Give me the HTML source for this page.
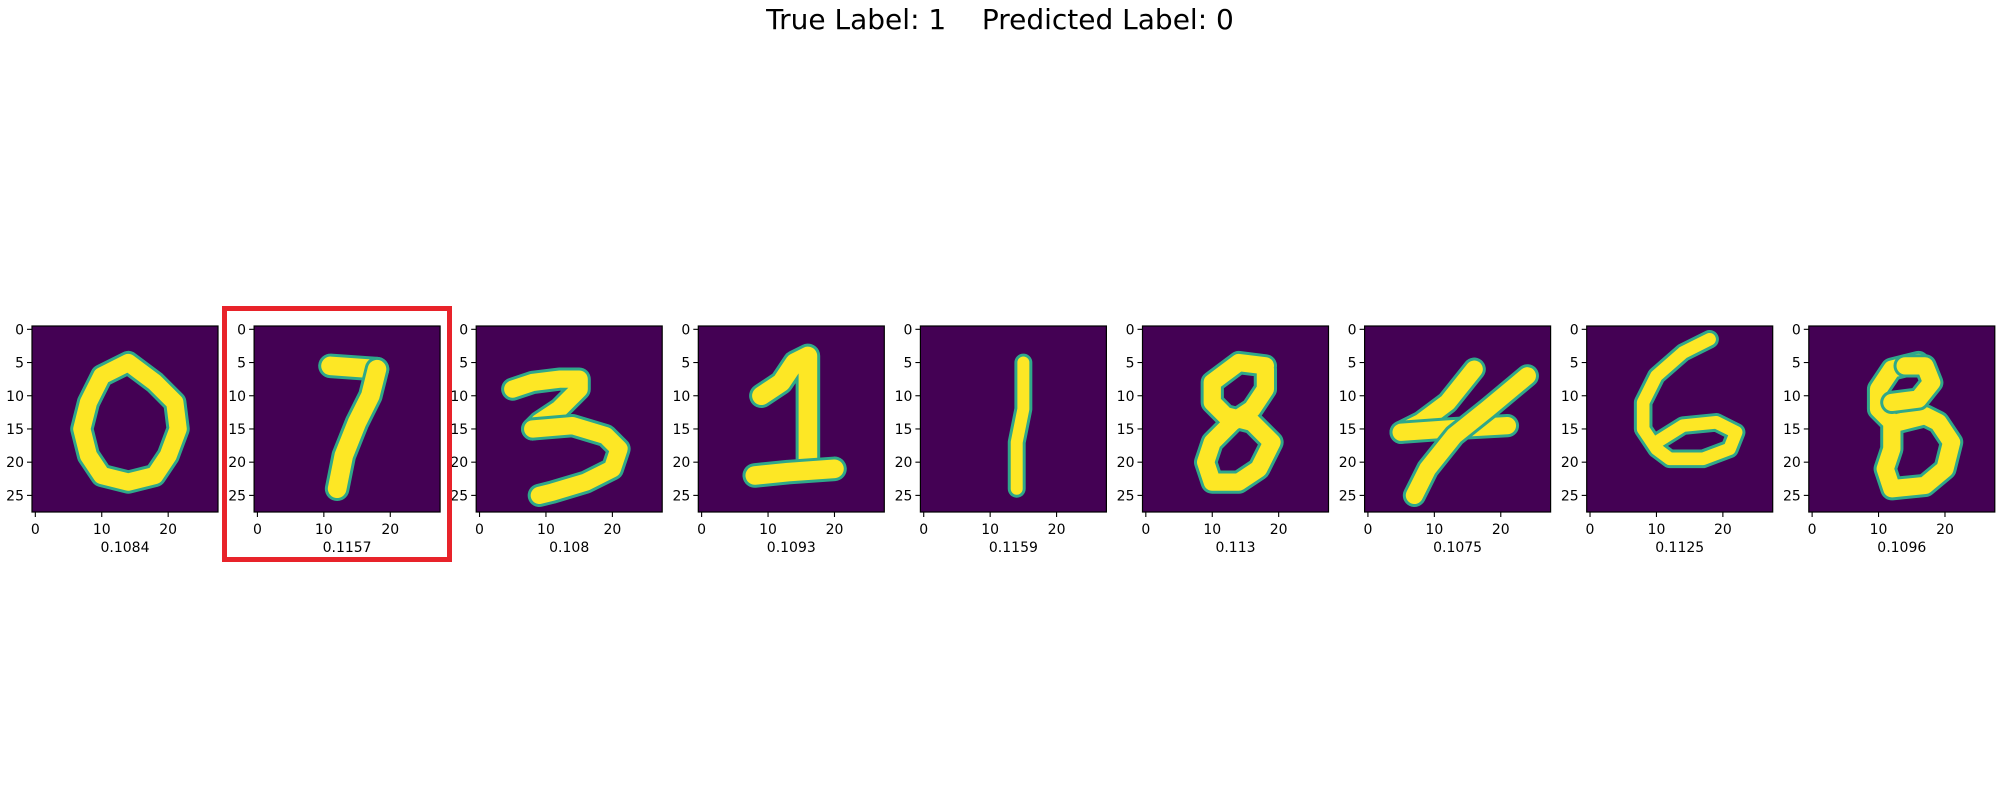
<!DOCTYPE html>
<html><head><meta charset="utf-8"><style>
html,body{margin:0;padding:0;background:#fff;}
svg{display:block;font-family:"DejaVu Sans","Liberation Sans",sans-serif;}
</style></head><body>
<svg id="fig" width="2000" height="800" viewBox="0 0 2000 800" xmlns="http://www.w3.org/2000/svg">
<text x="1000" y="29" text-anchor="middle" font-size="28" fill="#000" style="white-space:pre" xml:space="preserve">True Label: 1    Predicted Label: 0</text>
<g id="panels"></g>
<rect x="224.5" y="308.5" width="225" height="251" fill="none" stroke="#e8232a" stroke-width="5"/>
</svg>
<script>
const scores = ["0.1084","0.1157","0.108","0.1093","0.1159","0.113","0.1075","0.1125","0.1096"];
const yTicks = [0,5,10,15,20,25];
const xTicks = [0,10,20];
const strokes0 = [[[14,5],[10,7],[8,11],[7,15],[8,19],[10,22],[14,23],[18,22],[20,19],[21.5,15],[21,11],[18,8],[14,5]]];
const strokes1 = [[[11,5.5],[18,6]],[[18,6],[17,10],[15,14],[13,19],[12,24]]];
const strokes2 = [[[5,9],[8,8],[12,7.5],[15,7.5],[15,9],[12,12],[9,14],[8,15]],[[8,15],[14,14.5],[19,16],[21,18],[20,21],[16,23],[11,24.5],[9,25]]];
const strokes3 = [[[9,10],[12,8],[14,5],[16,4],[16,10],[16,20],[16,21]],[[8,22],[13,21.5],[20,21]]];
const strokes4 = [[[15,5],[15,12],[14,17],[14,24]]];
const strokes5 = [[[18,5.5],[14,5],[10,8],[10,11],[12,13],[16,14],[19,17],[17,21],[14,23],[10,23],[9,20],[10,17],[13,14],[16,12],[18,9],[18,6]]];
const strokes6 = [[[16,6],[12,11],[8,14],[5,15.5]],[[5,15.5],[12,15],[21,14.5]],[[24,7],[18,12],[13,16],[9,21],[7,25]]];
const strokes7 = [[[18,1.5],[14,3.5],[10,7],[8,11],[8,15],[10,18],[12,19.5],[17,19.5],[21,18],[22,15.5],[19,14],[14,14.5],[10,17]]];
const strokes8 = [[[16,5],[12,6],[10,9],[10,12],[12,14],[12,18],[11,21],[12,24],[17,23.5],[20,21],[21,17],[19,14],[17,13],[13,14]],[[12,11],[16,10.5],[18,8],[17,5.5],[14,5.5]]];
const digits = [strokes0,strokes1,strokes2,strokes3,strokes4,strokes5,strokes6,strokes7,strokes8];
const widths = [2.6,2.8,2.6,2.8,1.8,2.6,2.6,1.9,2.6];

const NS="http://www.w3.org/2000/svg";
const root=document.getElementById('panels');
const top0=326, size=186, left0=32, step=222.1, n=28, cell=size/n;
function mk(t,a,p){const e=document.createElementNS(NS,t);for(const k in a)e.setAttribute(k,a[k]);p.appendChild(e);return e;}
digits.forEach((strokes,i)=>{
  const L=left0+i*step;
  const sx=c=>L+(c+0.5)*cell, sy=r=>top0+(r+0.5)*cell;
  const g=mk('g',{},root);
  
  
  const bg=mk('rect',{x:L,y:top0,width:size,height:size,fill:'#440154'},g);
  
  
  strokes.forEach(s=>{
    const pts=s.map(p=>sx(p[0])+','+sy(p[1])).join(' ');
    const o=mk('polyline',{points:pts,fill:'none',stroke:'#2fa88a','stroke-width':(widths[i]+0.9)*cell,'stroke-linecap':'round','stroke-linejoin':'round'},g);
    
    
    const y=mk('polyline',{points:pts,fill:'none',stroke:'#fde725','stroke-width':widths[i]*cell,'stroke-linecap':'round','stroke-linejoin':'round'},g);
    
    
  });
  const fr=mk('rect',{x:L,y:top0,width:size,height:size,fill:'none',stroke:'#000','stroke-width':1.2},g);
  
  
  yTicks.forEach(v=>{
    const y=sy(v);
    mk('line',{x1:L-5,x2:L,y1:y,y2:y,stroke:'#000','stroke-width':1.1},g);
    const t=mk('text',{x:L-8,y:y+5,'text-anchor':'end','font-size':14},g);
    t.textContent=v;
    
    
  });
  xTicks.forEach(v=>{
    const x=sx(v);
    mk('line',{x1:x,x2:x,y1:top0+size,y2:top0+size+5,stroke:'#000','stroke-width':1.1},g);
    const t=mk('text',{x:x,y:top0+size+22,'text-anchor':'middle','font-size':14},g);
    t.textContent=v;
    
    
  });
  const lab=mk('text',{x:L+size/2,y:552,'text-anchor':'middle','font-size':14},g);
  lab.textContent=scores[i];
  
  
});
</script>
</body></html>
